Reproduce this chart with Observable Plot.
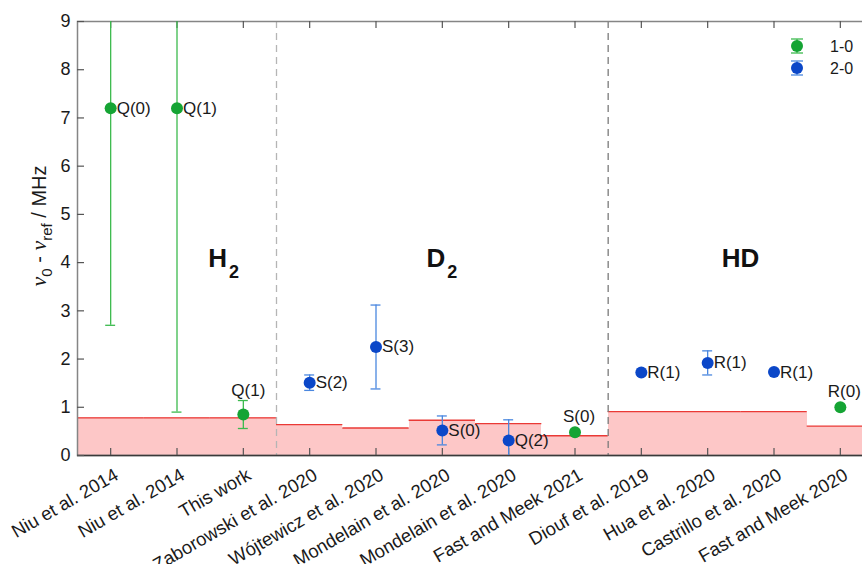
<!DOCTYPE html>
<html>
<head>
<meta charset="utf-8">
<script src="https://cdn.jsdelivr.net/npm/d3@7"></script>
<script src="https://cdn.jsdelivr.net/npm/@observablehq/plot@0.6"></script>
<style>
  html, body { margin: 0; padding: 0; background: #fff; overflow: hidden; }
  #chart svg { display: block; max-width: none !important; height: 564px !important; }
</style>
</head>
<body>
<div id="chart"></div>
<script>
// ---- data ----
const references = ["Niu et al. 2014", "Niu et al. 2014", "This work", "Zaborowski et al. 2020",
  "Wójtewicz et al. 2020", "Mondelain et al. 2020", "Mondelain et al. 2020", "Fast and Meek 2021",
  "Diouf et al. 2019", "Hua et al. 2020", "Castrillo et al. 2020", "Fast and Meek 2020"];
const bands = ["1-0", "1-0", "1-0", "2-0", "2-0", "2-0", "2-0", "1-0", "2-0", "2-0", "2-0", "1-0"];
const transitions = ["Q(0)", "Q(1)", "Q(1)", "S(2)", "S(3)", "S(0)", "Q(2)", "S(0)", "R(1)", "R(1)", "R(1)", "R(0)"];
const deviations = [7.2, 7.2, 0.85, 1.51, 2.25, 0.52, 0.31, 0.48, 1.72, 1.92, 1.73, 1.0];
const uncertainties = [4.5, 6.3, 0.29, 0.16, 0.87, 0.30, 0.43, 0, 0, 0.25, 0, 0];
const theoryUncertainty = [0.78, 0.78, 0.78, 0.64, 0.57, 0.73, 0.66, 0.41, 0.91, 0.91, 0.91, 0.61];
const molecules = ["H", "D", "HD"];
const moleculeSubscripts = ["2", "2", ""];
const moleculeAt = [1.48, 4.77, 9.22];   // x (reference index) of the molecule annotations
const moleculeLevel = 3.9;               // y of the molecule annotations (MHz)
const groupBoundaries = [2.5, 7.5];
const yTicks = [0, 1, 2, 3, 4, 5, 6, 7, 8, 9];
const legendBands = ["1-0", "2-0"];

// ---- styles ----
const FONT = "'Liberation Sans', Arial, Helvetica, sans-serif";
const dotColor = {"1-0": "#15a434", "2-0": "#0b47c8"};
const barColor = {"1-0": "#3cba4e", "2-0": "#4a87df"};
const labelAbove = new Set([2, 7, 11]);

const idx = d3.range(references.length);
const rows = idx.map(i => ({
  i, ref: references[i], band: bands[i], tr: transitions[i],
  y: deviations[i], e: uncertainties[i], th: theoryUncertainty[i]
}));
const withErr = rows.filter(d => d.e > 0);
const capW = 0.075;

const plot = Plot.plot({
  width: 880, height: 564,
  marginLeft: 77, marginRight: 7, marginTop: 21, marginBottom: 109,
  x: {domain: [-0.5, 11.5], axis: null},
  y: {domain: [0, 9], axis: null},
  color: {type: "identity"},
  style: {fontFamily: FONT, background: "#fff", color: "#1a1a1a"},
  marks: [
    Plot.rect(rows, {x1: d => d.i - 0.5, x2: d => d.i + 0.5, y1: 0, y2: "th", fill: "#fdc7c7", shapeRendering: "crispEdges"}),
    Plot.ruleY(rows, {x1: d => d.i - 0.5, x2: d => d.i + 0.5, y: "th", stroke: "#ea3a36", strokeWidth: 1.4}),
    Plot.ruleX([groupBoundaries[0]], {stroke: "#b5b5b5", strokeWidth: 1.3, strokeDasharray: "7,5"}),
    Plot.ruleX([groupBoundaries[1]], {stroke: "#7a7a7a", strokeWidth: 1.3, strokeDasharray: "7,5"}),
    Plot.frame({stroke: "#858585", strokeWidth: 1.5}),
    Plot.ruleY([0], {stroke: "#3a3a3a", strokeWidth: 1.5}),
    Plot.tickX(idx, {x: d => d, insetTop: 427, stroke: "#555", strokeWidth: 1.2}),
    Plot.tickX(idx, {x: d => d, insetBottom: 427, stroke: "#555", strokeWidth: 1.2}),
    Plot.tickY(yTicks, {y: d => d, insetRight: 789, stroke: "#555", strokeWidth: 1.2}),
    Plot.axisY(yTicks, {tickSize: 0, tickPadding: 7, fontSize: 18, label: null, fill: "#1a1a1a"}),
    Plot.axisX(idx, {tickFormat: i => references[i], tickRotate: -30, tickSize: 0, tickPadding: 18, dx: 6, fontSize: 18.5, label: null, fill: "#1a1a1a"}),
    Plot.ruleX(withErr, {x: "i", y1: d => d.y - d.e, y2: d => d.y + d.e, stroke: d => barColor[d.band], strokeWidth: 1.3, clip: true}),
    Plot.ruleY(withErr, {x1: d => d.i - capW, x2: d => d.i + capW, y: d => d.y + d.e, stroke: d => barColor[d.band], strokeWidth: 1.3, clip: true}),
    Plot.ruleY(withErr, {x1: d => d.i - capW, x2: d => d.i + capW, y: d => d.y - d.e, stroke: d => barColor[d.band], strokeWidth: 1.3, clip: true}),
    Plot.dot(rows, {x: "i", y: "y", r: 6, fill: d => dotColor[d.band], stroke: "none"}),
    Plot.text(rows.filter(d => !labelAbove.has(d.i)), {x: "i", y: "y", text: "tr", textAnchor: "start", dx: 6, fontSize: 17, fill: "#1a1a1a"}),
    Plot.text(rows.filter(d => labelAbove.has(d.i) && d.e > 0), {x: "i", y: d => d.y + d.e, text: "tr", dx: 5, dy: -10, fontSize: 17, fill: "#1a1a1a"}),
    Plot.text(rows.filter(d => labelAbove.has(d.i) && d.e === 0), {x: "i", y: "y", text: "tr", dx: 4, dy: -16, fontSize: 17, fill: "#1a1a1a"})
  ]
});

document.getElementById("chart").appendChild(plot);

const svg = d3.select(plot);
const sx = plot.scale("x"), sy = plot.scale("y");

molecules.forEach((m, k) => {
  const t = svg.append("text")
    .attr("x", sx.apply(moleculeAt[k]))
    .attr("y", sy.apply(moleculeLevel))
    .attr("text-anchor", "start")
    .attr("font-family", FONT).attr("font-weight", "bold").attr("font-size", 26)
    .attr("fill", "#111");
  t.append("tspan").text(m);
  if (moleculeSubscripts[k]) {
    t.append("tspan").attr("dx", 2).attr("dy", 11).attr("font-size", 18).text(moleculeSubscripts[k]);
  }
});

const yl = svg.append("text")
  .attr("transform", `translate(46,${sy.apply(4.75)}) rotate(-90)`)
  .attr("text-anchor", "middle").attr("font-family", FONT).attr("font-size", 20).attr("fill", "#1a1a1a");
yl.append("tspan").attr("font-family", "'Liberation Serif', 'DejaVu Serif', serif").attr("font-style", "italic").attr("font-size", 22).text("ν");
yl.append("tspan").attr("dy", 6).attr("font-size", 15).text("0");
yl.append("tspan").attr("dy", -6).text(" - ");
yl.append("tspan").attr("font-family", "'Liberation Serif', 'DejaVu Serif', serif").attr("font-style", "italic").attr("font-size", 22).text("ν");
yl.append("tspan").attr("dy", 6).attr("font-size", 15).text("ref");
yl.append("tspan").attr("dy", -6).text(" / MHz");

const frameRight = sx.apply(11.5), frameTop = sy.apply(9);
legendBands.forEach((b, k) => {
  const cx = frameRight - 76, cy = frameTop + 25 + k * 22;
  const g = svg.append("g");
  g.append("line").attr("x1", cx).attr("x2", cx).attr("y1", cy - 7).attr("y2", cy + 7).attr("stroke", barColor[b]).attr("stroke-width", 1.3);
  g.append("line").attr("x1", cx - 6).attr("x2", cx + 6).attr("y1", cy - 7).attr("y2", cy - 7).attr("stroke", barColor[b]).attr("stroke-width", 1.3);
  g.append("line").attr("x1", cx - 6).attr("x2", cx + 6).attr("y1", cy + 7).attr("y2", cy + 7).attr("stroke", barColor[b]).attr("stroke-width", 1.3);
  g.append("circle").attr("cx", cx).attr("cy", cy).attr("r", 6).attr("fill", dotColor[b]);
  g.append("text").attr("x", cx + 33).attr("y", cy).attr("dy", "0.35em").attr("text-anchor", "start").attr("font-family", FONT).attr("font-size", 16).attr("fill", "#1a1a1a").text(b);
});
</script>
</body>
</html>
